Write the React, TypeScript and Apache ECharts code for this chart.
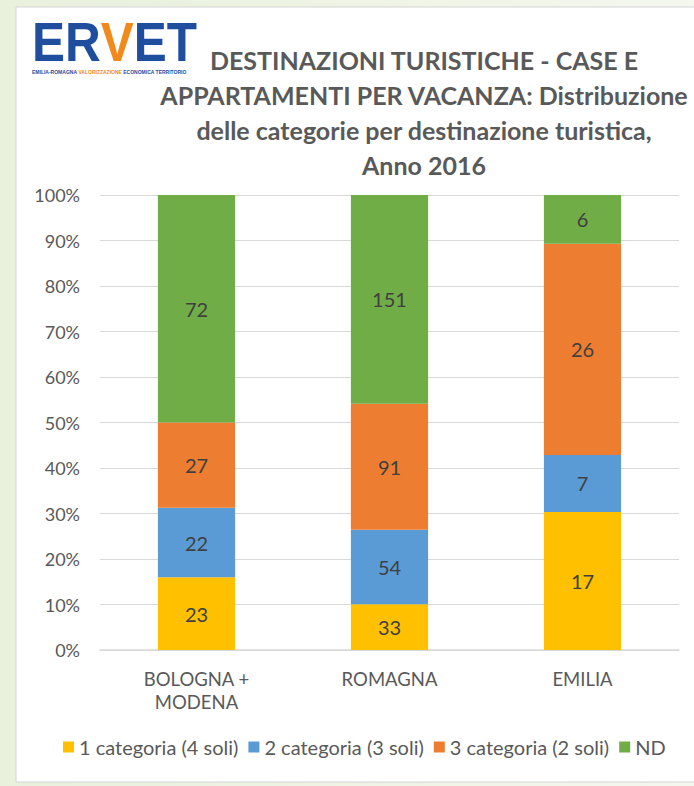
import React, { useEffect, useRef } from "react";
import * as echarts from "echarts";

const categories = ["BOLOGNA +\nMODENA", "ROMAGNA", "EMILIA"];
const seriesNames = ["1 categoria (4 soli)", "2 categoria (3 soli)", "3 categoria (2 soli)", "ND"];
const cat1 = [23, 33, 17];
const cat2 = [22, 54, 7];
const cat3 = [27, 91, 26];
const nd = [72, 151, 6];
const colors = ["#FFC000", "#5B9BD5", "#ED7D31", "#70AD47"];
const yTicks = [0, 10, 20, 30, 40, 50, 60, 70, 80, 90, 100];
const titleLines = [
  "DESTINAZIONI TURISTICHE - CASE E",
  "APPARTAMENTI PER VACANZA: Distribuzione",
  "delle categorie per destinazione turistica,",
  "Anno 2016",
];

const FONT = "Lato, 'Open Sans', sans-serif";
const LOGO_FONT = "'Liberation Sans', Arial, sans-serif";

export default function App() {
  const ref = useRef<HTMLDivElement>(null);
  useEffect(() => {
    document.body.style.margin = "0";
    const chart = echarts.init(ref.current!, null, { renderer: "svg" });
    const raw = [cat1, cat2, cat3, nd];
    const totals = categories.map((_, i) => raw.reduce((s, a) => s + a[i], 0));
    const series = raw.map((arr, k) => ({
      name: seriesNames[k],
      type: "bar",
      stack: "all",
      barWidth: "40%",
      itemStyle: { color: colors[k] },
      data: arr.map((v, i) => ({ value: (v / totals[i]) * 100, raw: v })),
      label: {
        show: true,
        position: "inside",
        color: "#404040",
        fontSize: 20,
        fontFamily: FONT,
        formatter: (p: any) => String(p.data.raw),
      },
    }));
    chart.setOption({
      animation: false,
      backgroundColor: "#ffffff",
      graphic: [
        { type: "rect", z: -10, shape: { x: 0, y: 0, width: 694, height: 786 }, style: { fill: new echarts.graphic.LinearGradient(0, 0, 1, 0, [{ offset: 0, color: "#e9f0dc" }, { offset: 1, color: "#f4f7ee" }]) } },
        { type: "rect", z: -9, shape: { x: 16, y: 7, width: 690, height: 775 }, style: { fill: "#ffffff", stroke: "#d4d4d4", lineWidth: 1 } },
        {
          type: "text",
          x: 32,
          y: 42,
          scaleX: 0.9,
          style: {
            text: "{b|ER}{o|V}{b|ET}",
            textVerticalAlign: "middle",
            rich: {
              b: { font: `bold 55px ${LOGO_FONT}`, fill: "#1F4E9E", color: "#1F4E9E" },
              o: { font: `bold 55px ${LOGO_FONT}`, fill: "#F08A1C", color: "#F08A1C" },
            },
          },
        },
        {
          type: "text",
          x: 32,
          y: 72,
          style: {
            text: "{b|EMILIA-ROMAGNA }{o|VALORIZZAZIONE }{b|ECONOMICA TERRITORIO}",
            textVerticalAlign: "middle",
            rich: {
              b: { font: `bold 5px ${LOGO_FONT}`, fill: "#1F4E9E", color: "#1F4E9E" },
              o: { font: `bold 5px ${LOGO_FONT}`, fill: "#F08A1C", color: "#F08A1C" },
            },
          },
        },
        ...titleLines.map((t, i) => ({
          type: "text",
          x: 424,
          y: 60 + i * 35,
          style: {
            text: t,
            font: `bold 25px ${FONT}`,
            fill: "#595959",
            textAlign: "center",
            textVerticalAlign: "middle",
          },
        })),
      ],
      legend: {
        data: seriesNames,
        bottom: 24,
        left: 58,
        icon: "rect",
        itemWidth: 11,
        itemHeight: 11,
        itemGap: 10,
        itemStyle: { borderWidth: 0 },
        textStyle: { color: "#595959", fontSize: 20, fontFamily: FONT },
      },
      grid: { left: 100, right: 15, top: 195, bottom: 136 },
      xAxis: {
        type: "category",
        data: categories,
        axisLine: { lineStyle: { color: "#d9d9d9", width: 1.5 } },
        axisTick: { show: false },
        axisLabel: { color: "#595959", fontSize: 18.5, fontFamily: FONT, margin: 17, lineHeight: 23 },
      },
      yAxis: {
        type: "value",
        min: 0,
        max: 100,
        interval: 10,
        axisLine: { show: false },
        axisTick: { show: false },
        splitLine: { lineStyle: { color: "#d9d9d9", width: 1 } },
        axisLabel: {
          color: "#595959",
          fontSize: 18,
          fontFamily: FONT,
          margin: 20,
          formatter: (v: number) => (yTicks.includes(v) ? v + "%" : ""),
        },
      },
      series,
    });
    return () => chart.dispose();
  }, []);
  return <div ref={ref} style={{ width: 694, height: 786 }} />;
}
